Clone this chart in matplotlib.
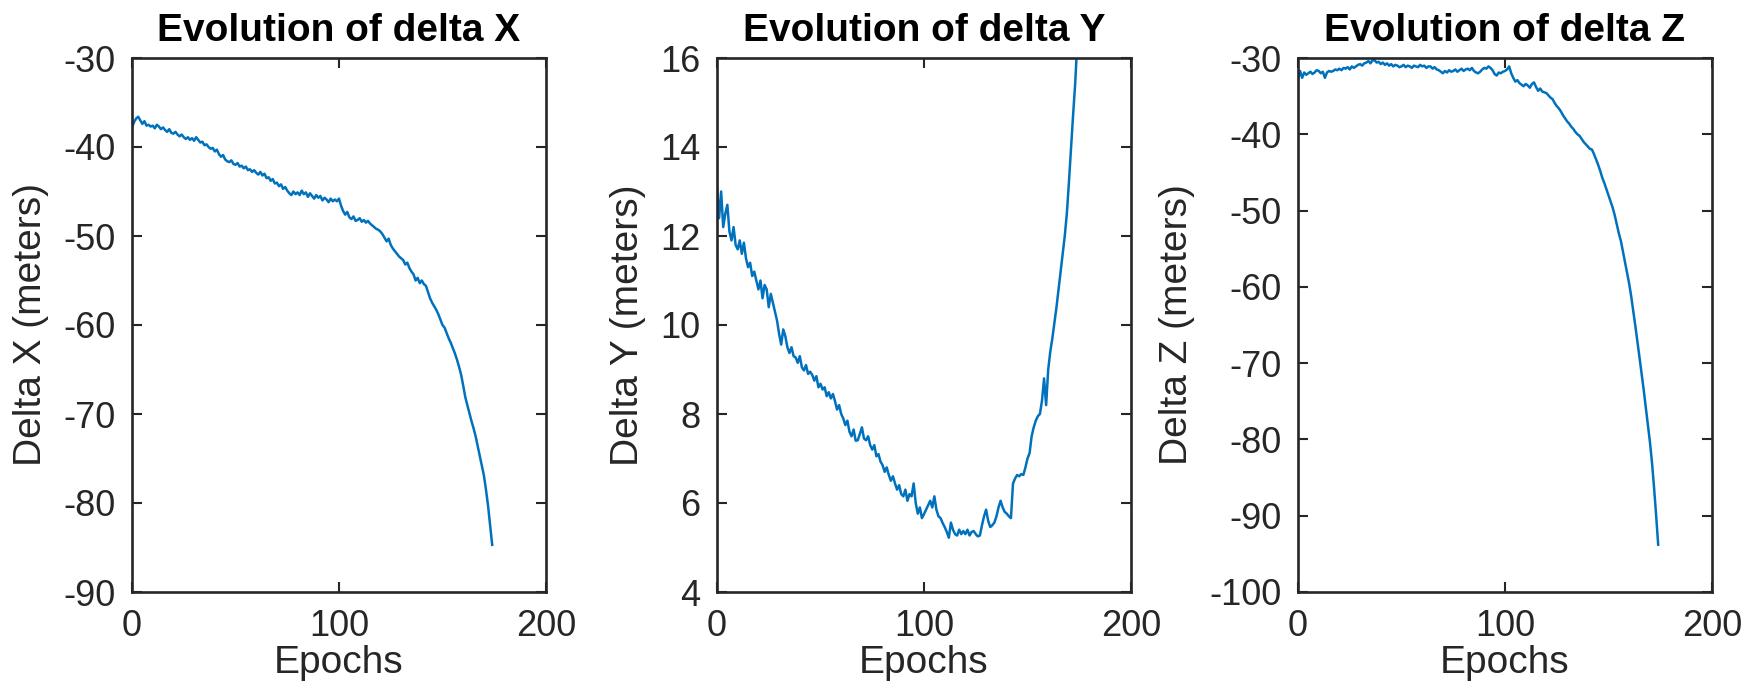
import numpy as np
import matplotlib
matplotlib.use("Agg")
import matplotlib.pyplot as plt

plt.rcParams['font.family'] = ['Liberation Sans', 'DejaVu Sans']
plt.rcParams['axes.unicode_minus'] = False

# per-epoch offsets (meters)
delta_x = [
    -37.8, -37.2, -36.8, -36.6, -37.0, -37.4, -37.1, -37.6, -37.5, -37.7,
    -37.6, -37.9, -37.5, -37.7, -38.0, -37.8, -38.1, -38.3, -38.0, -38.4,
    -38.5, -38.3, -38.6, -38.8, -38.6, -38.9, -39.1, -38.9, -39.2, -39.0,
    -39.3, -38.9, -39.2, -39.5, -39.4, -39.8, -39.7, -40.0, -40.2, -40.1,
    -40.5, -40.3, -40.8, -41.1, -40.9, -41.4, -41.6, -41.7, -41.5, -41.9,
    -42.0, -41.8, -42.2, -42.1, -42.4, -42.2, -42.6, -42.5, -42.8, -42.6,
    -42.9, -43.1, -42.8, -43.2, -43.0, -43.5, -43.4, -43.8, -43.6, -44.1,
    -44.0, -44.4, -44.2, -44.7, -44.5, -44.9, -45.2, -45.4, -45.0, -45.3,
    -45.1, -45.4, -44.9, -45.3, -45.1, -45.6, -45.2, -45.5, -45.8, -45.4,
    -45.7, -45.5, -46.0, -45.7, -45.9, -46.2, -45.8, -46.1, -45.9, -46.1,
    -45.8, -46.6, -47.2, -47.6, -47.3, -47.9, -48.1, -47.8, -48.3, -48.2,
    -48.0, -48.4, -48.2, -48.5, -48.3, -48.6, -48.8, -49.0, -49.2, -49.3,
    -49.5, -49.8, -50.2, -50.6, -50.3, -51.0, -51.4, -51.7, -52.0, -52.3,
    -52.5, -52.7, -53.2, -53.0, -53.6, -54.0, -54.3, -55.0, -54.7, -55.3,
    -55.0, -55.4, -55.6, -56.3, -57.0, -57.5, -57.9, -58.3, -58.8, -59.4,
    -60.0, -60.3, -60.9, -61.5, -62.0, -62.6, -63.2, -63.9, -64.7, -65.6,
    -66.8, -68.1, -69.0, -69.9, -70.8, -71.6, -72.5, -73.6, -74.7, -75.8,
    -76.9, -78.5, -80.3, -82.5, -84.7,
]

delta_y = [
    13.1, 12.4, 13.0, 12.2, 12.5, 12.7, 12.1, 11.9, 12.2, 11.8,
    11.7, 11.9, 11.6, 11.85, 11.5, 11.3, 11.4, 11.1, 11.2, 11.0,
    10.8, 11.0, 10.6, 10.9, 10.8, 10.4, 10.7, 10.5, 10.3, 10.1,
    9.8, 9.56, 9.9, 9.75, 9.5, 9.37, 9.5, 9.3, 9.27, 9.15,
    9.3, 9.05, 8.98, 9.1, 8.9, 8.95, 8.88, 8.75, 8.85, 8.6,
    8.68, 8.55, 8.6, 8.4, 8.49, 8.35, 8.45, 8.29, 8.1, 8.2,
    8.0, 7.9, 7.75, 7.85, 7.6, 7.5, 7.65, 7.4, 7.41, 7.55,
    7.7, 7.45, 7.41, 7.5, 7.3, 7.2, 7.3, 7.05, 7.1, 6.93,
    6.85, 6.7, 6.8, 6.63, 6.5, 6.6, 6.44, 6.3, 6.4, 6.2,
    6.15, 6.3, 6.05, 6.2, 6.15, 6.44, 6.0, 5.76, 5.9, 5.66,
    5.75, 5.85, 5.95, 6.05, 5.9, 6.15, 5.85, 5.7, 5.66, 5.55,
    5.46, 5.35, 5.22, 5.56, 5.4, 5.3, 5.27, 5.4, 5.3, 5.37,
    5.3, 5.4, 5.27, 5.35, 5.37, 5.3, 5.25, 5.27, 5.5, 5.7,
    5.85, 5.6, 5.46, 5.5, 5.56, 5.7, 5.9, 6.05, 5.9, 5.8,
    5.76, 5.7, 5.66, 6.44, 6.55, 6.63, 6.6, 6.65, 6.63, 6.8,
    7.0, 7.12, 7.5, 7.7, 7.85, 7.95, 8.0, 8.3, 8.8, 8.2,
    9.0, 9.4, 9.7, 10.05, 10.4, 10.8, 11.2, 11.6, 12.0, 12.5,
    13.2, 13.95, 14.7, 15.4, 16.3,
]

delta_z = [
    -32.8, -31.7, -32.6, -31.9, -32.2, -32.0, -31.8, -32.1, -31.9, -31.6,
    -31.7, -32.0, -31.8, -32.6, -31.9, -31.7, -31.8, -31.7, -31.5, -31.6,
    -31.4, -31.6, -31.3, -31.4, -31.2, -31.5, -31.1, -31.3, -31.1, -30.9,
    -30.8, -31.0, -30.7, -30.6, -30.4, -30.7, -30.3, -30.3, -30.6, -30.5,
    -30.8, -30.6, -30.9, -30.7, -31.0, -30.8, -31.1, -30.9, -31.0, -31.2,
    -31.1, -30.9, -31.2, -31.0, -31.1, -31.3, -31.0, -31.1, -31.2, -30.9,
    -31.1, -31.0, -31.3, -31.1, -31.1, -31.4, -31.2, -31.5, -31.6, -31.8,
    -32.0, -31.7, -31.9, -31.6, -31.8, -31.7, -31.5, -31.8, -31.6, -31.4,
    -31.7, -31.5, -31.4, -31.6, -31.3, -31.7, -31.9, -32.0, -31.8, -31.5,
    -31.3, -31.4, -31.1, -31.3, -31.6, -32.1, -32.3, -31.9, -32.0, -31.8,
    -31.7, -31.5, -31.1, -32.0, -32.6, -33.1, -32.9, -33.3, -33.5, -33.7,
    -33.4, -33.6, -33.9, -33.4, -33.2, -33.8, -34.3, -34.0, -34.4, -34.5,
    -34.6, -34.9, -35.2, -35.4, -35.9, -36.3, -36.6, -37.0, -37.5, -37.9,
    -38.3, -38.6, -39.0, -39.3, -39.7, -40.0, -40.2, -40.6, -41.0, -41.3,
    -41.6, -41.9, -42.0, -42.6, -43.3, -44.0, -44.8, -45.7, -46.4, -47.2,
    -48.0, -48.8, -49.6, -50.6, -51.8, -53.0, -54.0, -55.4, -56.8, -58.2,
    -59.6, -61.3, -63.2, -65.2, -67.2, -69.3, -71.4, -73.5, -75.8, -78.0,
    -80.3, -83.0, -86.3, -89.9, -93.8,
]

panels = [
    (delta_x, 'Evolution of delta X', 'Delta X (meters)', (-90, -30), np.arange(-90, -29, 10)),
    (delta_y, 'Evolution of delta Y', 'Delta Y (meters)', (4, 16), np.arange(4, 17, 2)),
    (delta_z, 'Evolution of delta Z', 'Delta Z (meters)', (-100, -30), np.arange(-100, -29, 10)),
]

W, H = 1756, 683
fig = plt.figure(figsize=(W / 100, H / 100), dpi=100)
lefts = [132, 717, 1298]
axc = '#262626'

for left, (vals, title, ylab, ylim, yt) in zip(lefts, panels):
    ax = fig.add_axes([left / W, 91 / H, 414 / W, 534 / H])
    epochs = np.arange(len(vals))
    ax.plot(epochs, vals, color='#0072BD', lw=1.8)
    ax.set_xlim(0, 200)
    ax.set_ylim(*ylim)
    ax.set_xticks([0, 100, 200])
    ax.set_yticks(yt)
    ax.tick_params(direction='in', top=True, right=True, length=7, width=1.5,
                   colors=axc, labelsize=26, pad=12)
    for s in ax.spines.values():
        s.set_color(axc)
        s.set_linewidth(1.9)
    ax.set_title(title, fontsize=28, fontweight='bold', pad=12)
    ax.set_xlabel('Epochs', fontsize=28, color=axc, labelpad=1)
    ax.set_ylabel(ylab, fontsize=28, color=axc, labelpad=10)

fig.savefig('out.png', dpi=100)
